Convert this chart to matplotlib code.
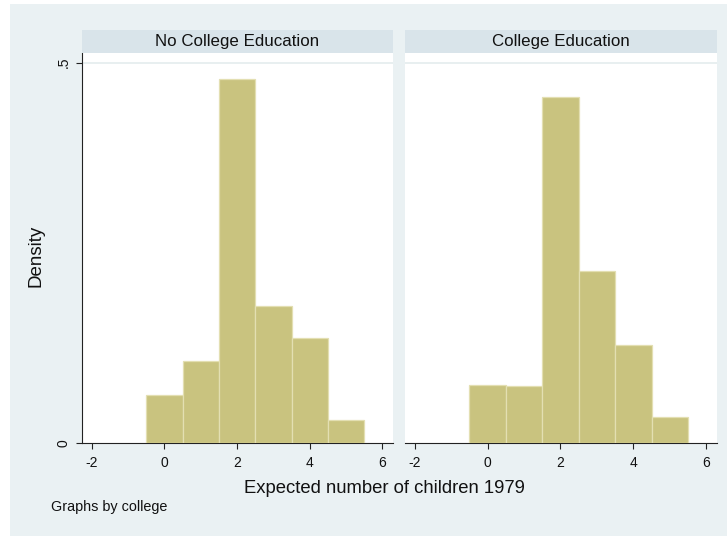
import matplotlib
matplotlib.use("Agg")
import matplotlib.pyplot as plt
from matplotlib.patches import Rectangle

plt.rcParams['font.family'] = ['Liberation Sans', 'DejaVu Sans']

panel_titles = ["No College Education", "College Education"]
bin_centers = [0, 1, 2, 3, 4, 5]
density_no_college = [0.064, 0.108, 0.478, 0.181, 0.138, 0.031]
density_college = [0.077, 0.075, 0.455, 0.227, 0.129, 0.035]
xticks = [-2, 0, 2, 4, 6]
yticks = [0, 0.5]
ytick_labels = ["0", ".5"]
xlabel = "Expected number of children 1979"
ylabel = "Density"
note = "Graphs by college"

W, H = 727, 536
fig = plt.figure(figsize=(W / 100, H / 100), dpi=100, facecolor='white')

def fx(px):
    return px / W

def fy(py):
    return 1 - py / H

BG = '#eaf1f3'
STRIP = '#d9e4ea'
BAR = '#c9c37f'
BAR_EDGE = '#e3dfb2'
AXC = '#222222'

fig.patches.append(Rectangle((fx(10), 0), 1 - fx(10), fy(4), transform=fig.transFigure,
                             facecolor=BG, edgecolor='none', zorder=-10))

top, bottom = 53.3, 443.3
panels = [(82, 393), (405, 716.7)]
data = [density_no_college, density_college]

for i, ((l, r), vals, title) in enumerate(zip(panels, data, panel_titles)):
    ax = fig.add_axes([fx(l), fy(bottom), fx(r) - fx(l), fy(top) - fy(bottom)])
    ax.set_facecolor('white')
    ax.bar(bin_centers, vals, width=1.0, align='center', color=BAR,
           edgecolor=BAR_EDGE, linewidth=0.9, zorder=3)
    ax.set_xlim(-2.27, 6.29)
    ax.set_ylim(0, 0.5124)
    ax.axhline(0.5, color='#e4ecee', lw=1.2, zorder=1)
    for s in ['top', 'right']:
        ax.spines[s].set_visible(False)
    ax.spines['bottom'].set_color(AXC)
    ax.spines['bottom'].set_linewidth(0.8)
    ax.set_xticks(xticks)
    ax.set_xticklabels([str(t) for t in xticks])
    ax.tick_params(axis='x', length=4.3, width=0.8, color=AXC, labelsize=10,
                   pad=4.5, labelcolor='#111111')
    if i == 0:
        ax.spines['left'].set_color(AXC)
        ax.spines['left'].set_linewidth(0.8)
        ax.set_yticks(yticks)
        ax.set_yticklabels(ytick_labels, rotation=90, va='center')
        ax.tick_params(axis='y', length=4.3, width=0.8, color=AXC, labelsize=10,
                       pad=4, labelcolor='#111111')
    else:
        ax.spines['left'].set_visible(False)
        ax.set_yticks([])
    # strip
    sax = fig.add_axes([fx(l), fy(top), fx(r) - fx(l), fy(30) - fy(top)])
    sax.set_facecolor(STRIP)
    for s in sax.spines.values():
        s.set_visible(False)
    sax.set_xticks([])
    sax.set_yticks([])
    sax.text(0.5, 0.5, title, ha='center', va='center', fontsize=12.2,
             color='#111111', transform=sax.transAxes)

fig.text(fx(384.5), fy(492.7), xlabel, ha='center', va='baseline', fontsize=13.3,
         color='#111111')
fig.text(fx(40.5), fy(255.4), ylabel, ha='center', va='baseline', rotation=90,
         fontsize=13.5, color='#111111', rotation_mode='anchor')
fig.text(fx(51), fy(511), note, ha='left', va='baseline', fontsize=10.4, color='#111111')

fig.savefig('out.png', dpi=100, facecolor='white')
